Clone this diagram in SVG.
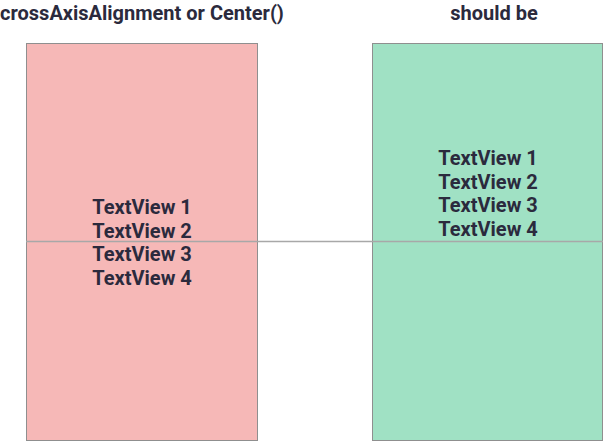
<svg xmlns="http://www.w3.org/2000/svg" width="605" height="442" viewBox="0 0 605 442">
<style>
.box{stroke:#8f8f8f;stroke-width:1}
.t{font-family:Roboto,"Liberation Sans",sans-serif;font-weight:700;font-size:20px;fill:#2b2a3d;text-anchor:middle}
</style>
<rect width="605" height="442" fill="#ffffff"/>
<g id="title-left"><text class="t" x="142" y="20">crossAxisAlignment or Center()</text></g>
<g id="title-right"><text class="t" x="494" y="20">should be</text></g>
<g id="box-left">
<rect class="box" x="26.5" y="43.5" width="231" height="397" fill="#f6b8b7"/>
<text class="t" x="142" y="214">TextView 1</text>
<text class="t" x="142" y="237.5">TextView 2</text>
<text class="t" x="142" y="261">TextView 3</text>
<text class="t" x="142" y="284.5">TextView 4</text>
</g>
<g id="box-right">
<rect class="box" x="372.5" y="43.5" width="230" height="397" fill="#a0e1c4"/>
<text class="t" x="488" y="165">TextView 1</text>
<text class="t" x="488" y="188.5">TextView 2</text>
<text class="t" x="488" y="212">TextView 3</text>
<text class="t" x="488" y="235.5">TextView 4</text>
</g>
<g id="connectors">
<line x1="26" y1="241.5" x2="603" y2="241.5" stroke="#a8a8a8" stroke-width="1.3"/>
</g>
</svg>
